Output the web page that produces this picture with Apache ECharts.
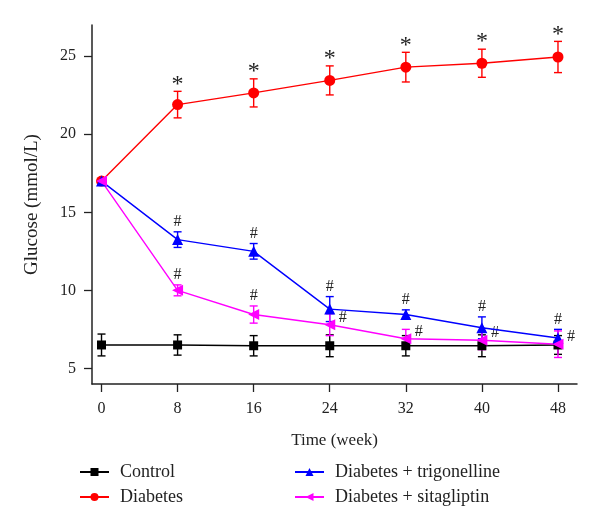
<!DOCTYPE html>
<html>
<head>
<meta charset="utf-8">
<script src="https://cdn.jsdelivr.net/npm/echarts@6/dist/echarts.min.js"></script>
<style>
  html, body { margin: 0; padding: 0; background: #fff; }
  #chart { width: 600px; height: 528px; }
</style>
</head>
<body>
<div id="chart"></div>
<script>
// weeks on the x axis
const weeks = [0, 8, 16, 24, 32, 40, 48];
const weekTicks = [0, 8, 16, 24, 32, 40, 48];
const glucoseTicks = [5, 10, 15, 20, 25];

// mean glucose (mmol/L) and error bar half-lengths
const control = [6.5, 6.5, 6.45, 6.45, 6.45, 6.45, 6.5];
const controlErr = [0.7, 0.65, 0.65, 0.7, 0.65, 0.7, 0.6];
const diabetes = [17, 21.9, 22.65, 23.45, 24.3, 24.55, 24.95];
const diabetesErr = [0.15, 0.85, 0.9, 0.93, 0.95, 0.9, 1.0];
const trigonelline = [17, 13.25, 12.5, 8.8, 8.45, 7.6, 6.95];
const trigonellineErr = [0.1, 0.5, 0.5, 0.8, 0.3, 0.7, 0.55];
const sitagliptin = [17, 10, 8.45, 7.8, 6.9, 6.8, 6.55];
const sitagliptinErr = [0.1, 0.35, 0.55, 0.7, 0.6, 0.6, 0.85];

// significance marks
const diabetesMarks = ['', '*', '*', '*', '*', '*', '*'];
const trigonellineMarks = ['', '#', '#', '#', '#', '#', '#'];
const sitagliptinMarks = ['', '#', '#', '#', '#', '#', '#'];

const FONT = 'Liberation Serif';

// 误差棒 + 标记
function errorSeries(vals, errs, marks, color, sideFrom) {
  return {
    type: 'custom',
    silent: true,
    renderItem: function (params, api) {
      const x = api.value(0), y = api.value(1), e = api.value(2);
      const i = params.dataIndex;
      const top = api.coord([x, y + e]);
      const bot = api.coord([x, y - e]);
      const mid = api.coord([x, y]);
      const style = { stroke: color, lineWidth: 1.4 };
      const children = [
        { type: 'line', shape: { x1: top[0], y1: top[1], x2: bot[0], y2: bot[1] }, style: style },
        { type: 'line', shape: { x1: top[0] - 4, y1: top[1], x2: top[0] + 4, y2: top[1] }, style: style },
        { type: 'line', shape: { x1: bot[0] - 4, y1: bot[1], x2: bot[0] + 4, y2: bot[1] }, style: style }
      ];
      const m = marks[i];
      if (m) {
        const isStar = m === '*';
        const side = sideFrom != null && i >= sideFrom;
        children.push({
          type: 'text',
          style: side ? {
            text: m,
            x: mid[0] + 9,
            y: mid[1] - 7,
            align: 'left',
            verticalAlign: 'middle',
            fill: '#222',
            font: '16px "' + FONT + '"'
          } : {
            text: m,
            x: top[0],
            y: top[1] - (isStar ? -5 : 2),
            align: 'center',
            verticalAlign: 'bottom',
            fill: '#222',
            font: (isStar ? 24 : 16) + 'px "' + FONT + '"'
          }
        });
      }
      return { type: 'group', children: children };
    },
    encode: { x: 0, y: 1 },
    data: weeks.map((w, i) => [w, vals[i], errs[i]])
  };
}

function lineSeries(name, vals, color, symbol, size, rotate) {
  return {
    name: name,
    type: 'line',
    data: weeks.map((w, i) => [w, vals[i]]),
    symbol: symbol,
    symbolSize: size,
    symbolRotate: rotate || 0,
    showAllSymbol: true,
    lineStyle: { color: color, width: 1.4 },
    itemStyle: { color: color, borderWidth: 0 },
    emphasis: { disabled: true }
  };
}

const chart = echarts.init(document.getElementById('chart'));

const legendBase = {
  orient: 'vertical',
  top: 463,
  padding: 0,
  itemWidth: 29,
  itemHeight: 10,
  itemGap: 7,
  textStyle: { fontFamily: FONT, fontSize: 18, color: '#222', padding: [0, 0, 0, 6] }
};

const option = {
  animation: false,
  backgroundColor: '#fff',
  textStyle: { fontFamily: FONT },
  grid: { left: 92, right: 23, top: 25, bottom: 144 },
  xAxis: {
    type: 'value',
    min: -1,
    max: 50,
    name: 'Time (week)',
    nameLocation: 'middle',
    nameGap: 48,
    nameTextStyle: { fontFamily: FONT, fontSize: 17, color: '#222' },
    axisLine: { onZero: false, lineStyle: { color: '#222', width: 1.5 } },
    axisTick: { customValues: weekTicks, length: 8, lineStyle: { color: '#222', width: 1.3 } },
    axisLabel: { customValues: weekTicks, fontFamily: FONT, fontSize: 16, color: '#222', margin: 17 },
    splitLine: { show: false }
  },
  yAxis: {
    type: 'value',
    min: 4,
    max: 27,
    name: 'Glucose (mmol/L)',
    nameLocation: 'middle',
    nameGap: 50,
    nameTextStyle: { fontFamily: FONT, fontSize: 19, color: '#222' },
    axisLine: { show: true, onZero: false, lineStyle: { color: '#222', width: 1.5 } },
    axisTick: { show: true, customValues: glucoseTicks, length: 8, lineStyle: { color: '#222', width: 1.3 } },
    axisLabel: { customValues: glucoseTicks, fontFamily: FONT, fontSize: 16, color: '#222', margin: 16 },
    splitLine: { show: false }
  },
  legend: [
    Object.assign({}, legendBase, { data: ['Control', 'Diabetes'], left: 79 }),
    Object.assign({}, legendBase, { data: ['Diabetes + trigonelline', 'Diabetes + sitagliptin'], left: 294 })
  ],
  series: [
    errorSeries(control, controlErr, [], '#000'),
    lineSeries('Control', control, '#000', 'rect', 9),
    errorSeries(diabetes, diabetesErr, diabetesMarks, '#ff0000'),
    lineSeries('Diabetes', diabetes, '#ff0000', 'circle', 11),
    errorSeries(trigonelline, trigonellineErr, trigonellineMarks, '#0000ff'),
    lineSeries('Diabetes + trigonelline', trigonelline, '#0000ff', 'triangle', 11),
    errorSeries(sitagliptin, sitagliptinErr, sitagliptinMarks, '#ff00ff', 3),
    lineSeries('Diabetes + sitagliptin', sitagliptin, '#ff00ff', 'triangle', 11, 90)
  ]
};

chart.setOption(option);
</script>
</body>
</html>
